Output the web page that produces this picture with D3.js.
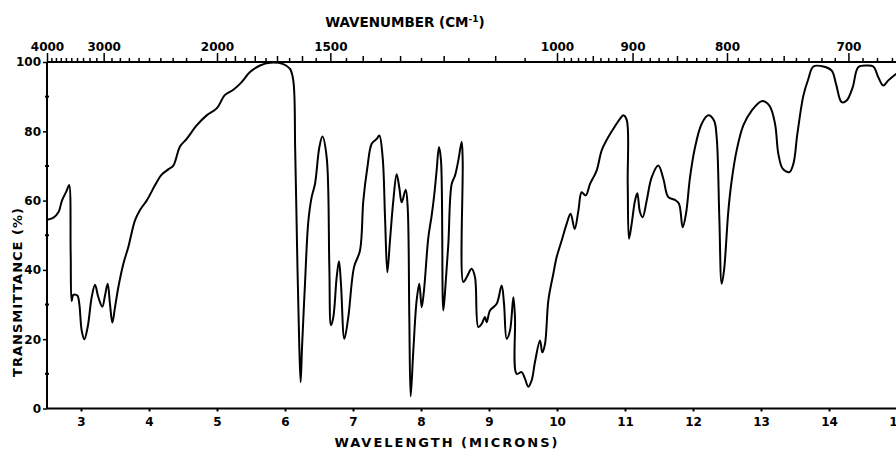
<!DOCTYPE html>
<html>
<head>
<meta charset="utf-8">
<script src="https://cdn.jsdelivr.net/npm/d3@7"></script>
<style>
  body { margin: 0; background: white; }
  text { font-family: "DejaVu Sans", sans-serif; font-weight: bold; fill: black; }
</style>
</head>
<body>
<div id="chart"></div>
<script>
// spectrum: wavelength (microns) and transmittance (%)
var wavelength = [2.50, 2.59, 2.67, 2.72, 2.79, 2.825, 2.848, 2.863, 2.887, 2.946, 2.975, 3.01, 3.049, 3.098, 3.157, 3.206, 3.255, 3.314, 3.353, 3.392, 3.426, 3.461, 3.50, 3.549, 3.623, 3.696, 3.794, 3.868, 3.966, 4.088, 4.186, 4.284, 4.358, 4.456, 4.554, 4.701, 4.848, 4.995, 5.118, 5.24, 5.363, 5.485, 5.632, 5.779, 5.975, 6.074, 6.123, 6.15, 6.183, 6.21, 6.23, 6.25, 6.294, 6.343, 6.392, 6.441, 6.505, 6.55, 6.613, 6.652, 6.676, 6.711, 6.76, 6.794, 6.823, 6.873, 6.931, 7.015, 7.103, 7.152, 7.211, 7.275, 7.348, 7.387, 7.436, 7.471, 7.505, 7.544, 7.593, 7.642, 7.681, 7.716, 7.775, 7.804, 7.828, 7.848, 7.887, 7.936, 7.975, 8.01, 8.044, 8.108, 8.157, 8.196, 8.23, 8.264, 8.294, 8.328, 8.362, 8.402, 8.451, 8.50, 8.549, 8.598, 8.613, 8.623, 8.672, 8.745, 8.794, 8.843, 8.892, 8.941, 8.966, 9.015, 9.113, 9.186, 9.221, 9.26, 9.309, 9.358, 9.382, 9.407, 9.48, 9.529, 9.578, 9.627, 9.676, 9.75, 9.784, 9.824, 9.873, 9.946, 9.995, 10.069, 10.142, 10.20, 10.26, 10.314, 10.363, 10.422, 10.486, 10.535, 10.584, 10.657, 10.73, 10.828, 10.926, 10.975, 11.025, 11.04, 11.059, 11.098, 11.147, 11.181, 11.22, 11.26, 11.319, 11.392, 11.49, 11.564, 11.637, 11.735, 11.794, 11.848, 11.897, 11.956, 12.03, 12.128, 12.226, 12.309, 12.348, 12.387, 12.422, 12.456, 12.52, 12.569, 12.642, 12.74, 12.863, 13.01, 13.123, 13.206, 13.255, 13.319, 13.417, 13.476, 13.535, 13.623, 13.696, 13.77, 13.917, 14.04, 14.103, 14.186, 14.26, 14.348, 14.431, 14.554, 14.652, 14.725, 14.799, 14.872, 14.99];
var transmittance = [54.5, 55.0, 56.7, 60.0, 62.9, 64.5, 45, 31, 32.8, 32.6, 30.2, 22.5, 20.0, 23.5, 32.1, 35.7, 32.1, 29.4, 32.6, 36.0, 30.2, 24.8, 29.2, 35.0, 41.8, 46.6, 54.3, 57.3, 60.0, 64.4, 67.5, 69.0, 70.1, 75.6, 77.8, 81.7, 84.6, 86.6, 90.5, 92.0, 94.2, 97.1, 99.0, 99.8, 99.4, 98.0, 94.5, 74.5, 41, 18, 7.6, 17.5, 36, 54, 61, 64.8, 75.4, 78.5, 72.5, 40.8, 24, 26.4, 37.9, 42.5, 36, 20.1, 26.4, 40.8, 45.6, 60, 69.5, 76.4, 77.8, 78.8, 72.5, 55.2, 39.3, 48.5, 60, 67.6, 63.7, 59.5, 63.1, 58.1, 26.4, 3.5, 16.7, 31.2, 36, 29.2, 34.1, 49.4, 55.7, 61.9, 68.7, 75.5, 71.6, 28.3, 36, 47.5, 64.8, 67.2, 71.6, 77, 71.6, 36.5, 37.9, 40.3, 37.9, 23.5, 24.4, 26.4, 24.9, 28.3, 30.2, 35.5, 30.2, 20.1, 22.5, 32.1, 26.4, 10, 10.5, 8.6, 6.3, 8.1, 13.4, 19.6, 16.2, 18.7, 31.2, 38.9, 43.7, 48.5, 53.3, 56.2, 51.8, 57, 62.4, 61.5, 64.8, 66.7, 68.7, 74.5, 77.5, 80.7, 83.6, 84.6, 83.3, 64.8, 49.0, 53.3, 60, 62.1, 56.7, 55.2, 60, 66.7, 70.1, 66.3, 61, 60.2, 59.1, 52.3, 56.2, 66.7, 75.4, 82.2, 84.6, 83.1, 78.3, 55.2, 36, 39.8, 57.1, 65.8, 74.5, 81.7, 86, 88.7, 87.4, 82.2, 73.5, 69.2, 68.2, 70.6, 79.3, 90.3, 95.1, 98.7, 98.7, 97.5, 93.7, 88.4, 88.9, 92.7, 98.5, 99.0, 98.7, 95.6, 93.2, 94.7, 96.6];

var micronTicks = [3, 4, 5, 6, 7, 8, 9, 10, 11, 12, 13, 14, 15];
var percentTicks = [0, 20, 40, 60, 80, 100];
var percentMinor = [10, 30, 50, 70, 90];
var wavenumberTicks = [4000, 3000, 2000, 1500, 1000, 900, 800, 700];

var W = 896, H = 450;
var mLeft = 47, mRight = 897, mTop = 62, mBottom = 408.5;

var svg = d3.select("#chart").append("svg").attr("width", W).attr("height", H);

var x = d3.scaleLinear().domain([2.5, 15]).range([mLeft, mRight]);
var y = d3.scaleLinear().domain([0, 100]).range([mBottom, mTop]);
// wavenumber = 10000 / wavelength, so a 1/x power scale lines up with x
var xTop = d3.scalePow().exponent(-1).domain([4000, 10000 / 15]).range([mLeft, mRight]);

var data = wavelength.map(function (d, i) { return [d, transmittance[i]]; });

svg.append("defs").append("clipPath").attr("id", "clip")
  .append("rect").attr("x", mLeft).attr("y", 0).attr("width", W - mLeft).attr("height", H);

// minor wavenumber ticks
var minor = [], mid = [];
for (var w = 3900; w > 2000; w -= 100) if (w != 3000) minor.push(w);
for (var w = 1950; w > 1000; w -= 50) {
  if (w == 1500) continue;
  if (w % 100 == 0) mid.push(w); else minor.push(w);
}
for (var w = 990; w >= 670; w -= 10) {
  if (wavenumberTicks.indexOf(w) >= 0) continue;
  if (w % 50 == 0) mid.push(w); else minor.push(w);
}

svg.append("g").attr("transform", "translate(0," + mTop + ")")
  .call(d3.axisTop(xTop).tickValues(minor).tickSize(4).tickFormat(""))
  .call(function (g) { g.select(".domain").remove(); });
svg.append("g").attr("transform", "translate(0," + mTop + ")")
  .call(d3.axisTop(xTop).tickValues(mid).tickSize(6).tickFormat(""))
  .call(function (g) { g.select(".domain").remove(); });

var topAxis = svg.append("g").attr("transform", "translate(0," + mTop + ")")
  .call(d3.axisTop(xTop).tickValues(wavenumberTicks).tickSize(9).tickSizeOuter(0).tickPadding(2).tickFormat(d3.format("d")));
topAxis.select(".domain").remove();
topAxis.selectAll("text").attr("font-size", 12).style("font-family", "DejaVu Sans").style("font-weight", "bold");

svg.selectAll(".tick line").attr("stroke", "black").attr("stroke-width", 1.5);

svg.append("line").attr("x1", mLeft).attr("x2", W).attr("y1", mTop).attr("y2", mTop)
  .attr("stroke", "black").attr("stroke-width", 2);

// bottom axis
var bottomAxis = svg.append("g").attr("transform", "translate(0," + mBottom + ")")
  .call(d3.axisBottom(x).tickValues(micronTicks).tickSize(3).tickSizeOuter(0).tickPadding(6).tickFormat(d3.format("d")));
bottomAxis.select(".domain").remove();
bottomAxis.selectAll("text").attr("font-size", 12).style("font-family", "DejaVu Sans").style("font-weight", "bold");
bottomAxis.selectAll(".tick line").attr("stroke-width", 2);

svg.append("line").attr("x1", mLeft).attr("x2", W).attr("y1", mBottom).attr("y2", mBottom)
  .attr("stroke", "black").attr("stroke-width", 2);

// left axis
var leftAxis = svg.append("g").attr("transform", "translate(" + mLeft + ",0)")
  .call(d3.axisLeft(y).tickValues(percentTicks).tickSize(4).tickSizeOuter(0).tickPadding(2));
leftAxis.select(".domain").remove();
leftAxis.selectAll("text").attr("font-size", 12).style("font-family", "DejaVu Sans").style("font-weight", "bold");
leftAxis.selectAll(".tick line").attr("stroke-width", 1.5);

svg.append("g").selectAll("line").data(percentMinor).enter().append("line")
  .attr("x1", mLeft - 2).attr("x2", mLeft + 2)
  .attr("y1", function (d) { return y(d); }).attr("y2", function (d) { return y(d); })
  .attr("stroke", "black").attr("stroke-width", 2);

svg.append("line").attr("x1", mLeft).attr("x2", mLeft).attr("y1", mTop).attr("y2", mBottom)
  .attr("stroke", "black").attr("stroke-width", 2);

// spectrum
var line = d3.line()
  .x(function (d) { return x(d[0]); })
  .y(function (d) { return y(d[1]); })
  .curve(d3.curveCatmullRom.alpha(0.5));

svg.append("path").datum(data)
  .attr("clip-path", "url(#clip)")
  .attr("d", line)
  .attr("fill", "none")
  .attr("stroke", "black")
  .attr("stroke-width", 2)
  .attr("stroke-linejoin", "round");

// titles
var t = svg.append("text").attr("x", 405).attr("y", 27).attr("text-anchor", "middle").attr("font-size", 13.5);
t.append("tspan").text("WAVENUMBER (CM");
t.append("tspan").attr("font-size", 9).attr("dy", -5).text("-1");
t.append("tspan").attr("dy", 5).text(")");

svg.append("text").attr("x", 447).attr("y", 447).attr("text-anchor", "middle")
  .attr("font-size", 13).attr("letter-spacing", 2).text("WAVELENGTH (MICRONS)");

svg.append("text").attr("transform", "translate(22,292) rotate(-90)").attr("text-anchor", "middle")
  .attr("font-size", 13).attr("letter-spacing", 1).text("TRANSMITTANCE (%)");
</script>
</body>
</html>
